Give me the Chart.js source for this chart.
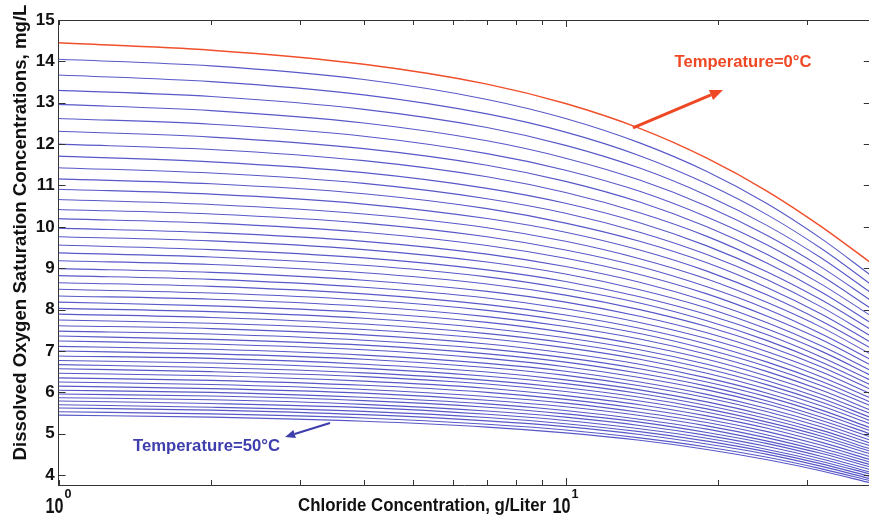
<!DOCTYPE html>
<html><head><meta charset="utf-8">
<script src="https://cdn.jsdelivr.net/npm/chart.js@4/dist/chart.umd.min.js"></script>
<style>
html,body{margin:0;padding:0;background:#fff;overflow:hidden;}
#wrap{position:relative;width:872px;height:518px;}
</style></head><body>
<div id="wrap"><canvas id="c"></canvas></div>
<script>
// ---- data ----
const chlorideGL = [1, 2, 4, 7, 10, 14, 19, 25, 32, 40];
const temperaturesC = [0,1,2,3,4,5,6,7,8,9,10,11,12,13,14,15,16,17,18,19,20,21,22,23,24,25,26,27,28,29,30,31,32,33,34,35,36,37,38,39,40,41,42,43,44,45,46,47,48,49,50];
const T00 = [14.45,14.27,13.93,13.45,12.98,12.38,11.66,10.86,10.00,9.13];
const T01 = [14.05,13.89,13.56,13.08,12.62,12.03,11.34,10.56,9.71,8.83];
const T02 = [13.67,13.51,13.19,12.73,12.29,11.72,11.04,10.29,9.47,8.61];
const T03 = [13.30,13.15,12.84,12.40,11.97,11.42,10.76,10.03,9.24,8.41];
const T04 = [12.96,12.81,12.51,12.08,11.66,11.13,10.50,9.79,9.02,8.22];
const T05 = [12.62,12.48,12.19,11.77,11.37,10.86,10.24,9.56,8.81,8.03];
const T06 = [12.31,12.17,11.89,11.49,11.10,10.60,10.00,9.33,8.61,7.85];
const T07 = [12.00,11.87,11.60,11.21,10.83,10.34,9.77,9.12,8.42,7.68];
const T08 = [11.71,11.57,11.31,10.93,10.57,10.10,9.54,8.91,8.23,7.52];
const T09 = [11.43,11.30,11.05,10.68,10.33,9.87,9.33,8.72,8.06,7.36];
const T10 = [11.16,11.04,10.80,10.44,10.09,9.65,9.13,8.53,7.89,7.21];
const T11 = [10.91,10.79,10.55,10.20,9.87,9.44,8.93,8.35,7.72,7.07];
const T12 = [10.66,10.54,10.31,9.98,9.65,9.23,8.74,8.17,7.57,6.92];
const T13 = [10.42,10.31,10.09,9.76,9.44,9.04,8.55,8.01,7.41,6.79];
const T14 = [10.20,10.09,9.87,9.55,9.24,8.85,8.38,7.84,7.27,6.66];
const T15 = [9.97,9.86,9.65,9.34,9.04,8.66,8.20,7.68,7.12,6.53];
const T16 = [9.76,9.66,9.45,9.15,8.86,8.48,8.04,7.53,6.99,6.41];
const T17 = [9.56,9.45,9.25,8.96,8.68,8.31,7.88,7.39,6.85,6.29];
const T18 = [9.37,9.27,9.07,8.79,8.51,8.16,7.73,7.25,6.73,6.18];
const T19 = [9.18,9.09,8.89,8.62,8.35,8.00,7.59,7.12,6.61,6.07];
const T20 = [8.99,8.90,8.71,8.44,8.18,7.84,7.44,6.98,6.49,5.96];
const T21 = [8.82,8.73,8.54,8.28,8.02,7.69,7.30,6.86,6.37,5.86];
const T22 = [8.65,8.56,8.38,8.12,7.87,7.55,7.17,6.73,6.26,5.76];
const T23 = [8.49,8.40,8.23,7.98,7.73,7.42,7.04,6.62,6.16,5.67];
const T24 = [8.33,8.25,8.08,7.83,7.59,7.29,6.92,6.50,6.05,5.57];
const T25 = [8.18,8.09,7.93,7.69,7.45,7.15,6.80,6.39,5.95,5.48];
const T26 = [8.03,7.95,7.79,7.55,7.32,7.03,6.68,6.28,5.85,5.39];
const T27 = [7.89,7.81,7.65,7.42,7.20,6.91,6.57,6.18,5.76,5.31];
const T28 = [7.75,7.67,7.52,7.30,7.08,6.80,6.46,6.08,5.67,5.23];
const T29 = [7.61,7.54,7.39,7.17,6.95,6.68,6.35,5.98,5.57,5.14];
const T30 = [7.48,7.41,7.26,7.05,6.84,6.57,6.25,5.89,5.49,5.07];
const T31 = [7.36,7.28,7.14,6.93,6.73,6.46,6.15,5.79,5.40,4.99];
const T32 = [7.24,7.17,7.03,6.82,6.62,6.36,6.06,5.71,5.32,4.92];
const T33 = [7.11,7.04,6.90,6.70,6.51,6.25,5.95,5.61,5.24,4.84];
const T34 = [7.00,6.93,6.80,6.60,6.41,6.16,5.87,5.53,5.16,4.77];
const T35 = [6.88,6.82,6.68,6.49,6.30,6.06,5.77,5.44,5.08,4.70];
const T36 = [6.77,6.71,6.58,6.39,6.21,5.97,5.68,5.36,5.01,4.63];
const T37 = [6.67,6.60,6.47,6.29,6.11,5.88,5.60,5.28,4.94,4.57];
const T38 = [6.57,6.50,6.38,6.20,6.02,5.79,5.52,5.21,4.87,4.51];
const T39 = [6.46,6.40,6.27,6.10,5.92,5.70,5.43,5.13,4.79,4.44];
const T40 = [6.35,6.29,6.17,6.00,5.83,5.61,5.35,5.05,4.72,4.37];
const T41 = [6.25,6.19,6.07,5.90,5.74,5.52,5.27,4.97,4.65,4.31];
const T42 = [6.15,6.09,5.98,5.81,5.65,5.44,5.19,4.90,4.58,4.25];
const T43 = [6.05,6.00,5.88,5.72,5.56,5.35,5.11,4.82,4.52,4.19];
const T44 = [5.96,5.91,5.80,5.64,5.48,5.28,5.03,4.76,4.45,4.13];
const T45 = [5.87,5.82,5.71,5.55,5.40,5.20,4.96,4.69,4.39,4.07];
const T46 = [5.79,5.73,5.63,5.47,5.32,5.12,4.89,4.62,4.33,4.02];
const T47 = [5.70,5.64,5.54,5.39,5.24,5.05,4.82,4.56,4.27,3.96];
const T48 = [5.62,5.57,5.46,5.31,5.17,4.98,4.75,4.50,4.21,3.91];
const T49 = [5.53,5.48,5.38,5.23,5.09,4.90,4.68,4.43,4.15,3.86];
const T50 = [5.45,5.40,5.30,5.16,5.02,4.84,4.62,4.37,4.10,3.81];
const seriesByTemperature = [T00,T01,T02,T03,T04,T05,T06,T07,T08,T09,T10,T11,T12,T13,T14,T15,T16,T17,T18,T19,T20,T21,T22,T23,T24,T25,T26,T27,T28,T29,T30,T31,T32,T33,T34,T35,T36,T37,T38,T39,T40,T41,T42,T43,T44,T45,T46,T47,T48,T49,T50];

const yTickValues = [4,5,6,7,8,9,10,11,12,13,14,15];
const xTickValues = [1,2,3,4,5,6,7,8,9,10,20,30];
const xLabelValues = [1, 10];
const xLabelExponents = ['0', '1'];
const xAxisTitle = 'Chloride Concentration, g/Liter';
const yAxisTitle = 'Dissolved Oxygen Saturation Concentrations, mg/L';
const coldLabel = 'Temperature=0°C';
const hotLabel = 'Temperature=50°C';

// ---- styles / annotation anchors (data coordinates) ----
const FONT = "'Liberation Sans',Arial,sans-serif";
const BLUE = 'rgb(88,88,200)';
const RED = 'rgb(240,80,44)';
const AXIS = '#333';
const annot = {
  cold: {text:{x:16.4, y:13.86, w:137}, tail:{x:13.58, y:12.39}, tip:{x:20.44, y:13.31}, color:'rgb(238,72,36)', lw:3, head:13},
  hot:  {text:{x:1.402, y:4.58, w:147}, tail:{x:3.43, y:5.26}, tip:{x:2.797, y:4.92}, color:'rgb(62,62,172)', lw:2.2, head:10}
};

const datasets = seriesByTemperature.map((vals, i) => ({
  label: 'T=' + temperaturesC[i] + '°C',
  data: chlorideGL.map((c, j) => ({x: c, y: vals[j]})),
  borderColor: temperaturesC[i] === 0 ? RED : BLUE,
  borderWidth: temperaturesC[i] === 0 ? 1.5 : 1.1,
  pointRadius: 0,
  cubicInterpolationMode: 'monotone',
  fill: false
}));

function line(ctx, x1, y1, x2, y2) { ctx.beginPath(); ctx.moveTo(x1, y1); ctx.lineTo(x2, y2); ctx.stroke(); }
function fitTextDraw(ctx, text, font, x, y, targetW, align) {
  ctx.font = font;
  const w = ctx.measureText(text).width;
  const sx = targetW ? targetW / w : 1;
  ctx.save();
  ctx.translate(x, y);
  ctx.scale(sx, 1);
  ctx.textAlign = align || 'left';
  ctx.fillText(text, 0, 0);
  ctx.restore();
}
function arrow(ctx, x1, y1, x2, y2, lw, head, color) {
  const ang = Math.atan2(y2 - y1, x2 - x1);
  const bx = x2 - head * Math.cos(ang), by = y2 - head * Math.sin(ang);
  ctx.strokeStyle = color; ctx.fillStyle = color; ctx.lineWidth = lw;
  line(ctx, x1, y1, bx, by);
  const hw = head * 0.42;
  ctx.beginPath();
  ctx.moveTo(x2, y2);
  ctx.lineTo(bx + hw * Math.sin(ang), by - hw * Math.cos(ang));
  ctx.lineTo(bx - hw * Math.sin(ang), by + hw * Math.cos(ang));
  ctx.closePath(); ctx.fill();
}

const decor = {
  id: 'decor',
  afterDraw(chart) {
    const {ctx, chartArea: a, scales: {x, y}} = chart;
    ctx.save();
    ctx.strokeStyle = AXIS; ctx.lineWidth = 1;
    line(ctx, a.left, a.top + 0.5, a.right, a.top + 0.5);
    line(ctx, a.right - 0.5, a.top, a.right - 0.5, a.bottom);
    xTickValues.forEach(v => {
      const px = Math.round(x.getPixelForValue(v)) + 0.5;
      const len = v === 10 ? 7 : 5;
      line(ctx, px, a.bottom, px, a.bottom - len);
      line(ctx, px, a.top, px, a.top + len);
    });
    yTickValues.forEach(v => {
      const py = Math.round(y.getPixelForValue(v)) + 0.5;
      line(ctx, a.left, py, a.left + 7, py);
      line(ctx, a.right, py, a.right - 7, py);
    });
    // x tick labels 10^n (narrowed like the reference glyphs)
    ctx.fillStyle = '#111';
    ctx.textBaseline = 'alphabetic';
    xLabelValues.forEach((v, i) => {
      const px = x.getPixelForValue(v);
      const wb = 18, we = 7;
      const left = px - (wb + we + 1) / 2;
      fitTextDraw(ctx, '10', 'bold 22px ' + FONT, left, a.bottom + 28, wb, 'left');
      fitTextDraw(ctx, xLabelExponents[i], 'bold 13px ' + FONT, left + wb + 1, a.bottom + 13, we, 'left');
    });
    // x title
    fitTextDraw(ctx, xAxisTitle, 'bold 18px ' + FONT, a.left + 0.4475 * (a.right - a.left), a.bottom + 26, 248, 'center');
    // y title (rotated)
    ctx.save();
    ctx.translate(26, a.top + 0.457 * (a.bottom - a.top));
    ctx.rotate(-Math.PI / 2);
    fitTextDraw(ctx, yAxisTitle, 'bold 19px ' + FONT, 0, 0, 456, 'center');
    ctx.restore();
    // annotations
    [['cold', coldLabel], ['hot', hotLabel]].forEach(([k, label]) => {
      const an = annot[k];
      ctx.fillStyle = an.color;
      fitTextDraw(ctx, label, 'bold 17px ' + FONT, x.getPixelForValue(an.text.x), y.getPixelForValue(an.text.y), an.text.w, 'left');
      arrow(ctx, x.getPixelForValue(an.tail.x), y.getPixelForValue(an.tail.y),
            x.getPixelForValue(an.tip.x), y.getPixelForValue(an.tip.y), an.lw, an.head, an.color);
    });
    ctx.restore();
  }
};

new Chart(document.getElementById('c'), {
  type: 'line',
  data: {datasets},
  options: {
    responsive: true,
    maintainAspectRatio: false,
    animation: false,
    events: [],
    layout: {padding: {left: 0, top: 20, right: 1.2, bottom: 0}},
    plugins: {legend: {display: false}, tooltip: {enabled: false}},
    scales: {
      x: {
        type: 'logarithmic', min: 1, max: 40,
        afterFit(s) { s.height = 33; },
        ticks: {display: false},
        grid: {display: false, drawTicks: false},
        border: {display: true, color: AXIS, width: 1}
      },
      y: {
        type: 'linear', min: 3.76, max: 15,
        afterFit(s) { s.width = 58.6; },
        afterBuildTicks(s) { s.ticks = yTickValues.map(v => ({value: v})); },
        ticks: {font: {family: FONT, size: 17, weight: 'bold'}, color: '#111', padding: 4},
        grid: {display: false, drawTicks: false},
        border: {display: true, color: AXIS, width: 1}
      }
    }
  },
  plugins: [decor]
});
</script>
</body></html>
